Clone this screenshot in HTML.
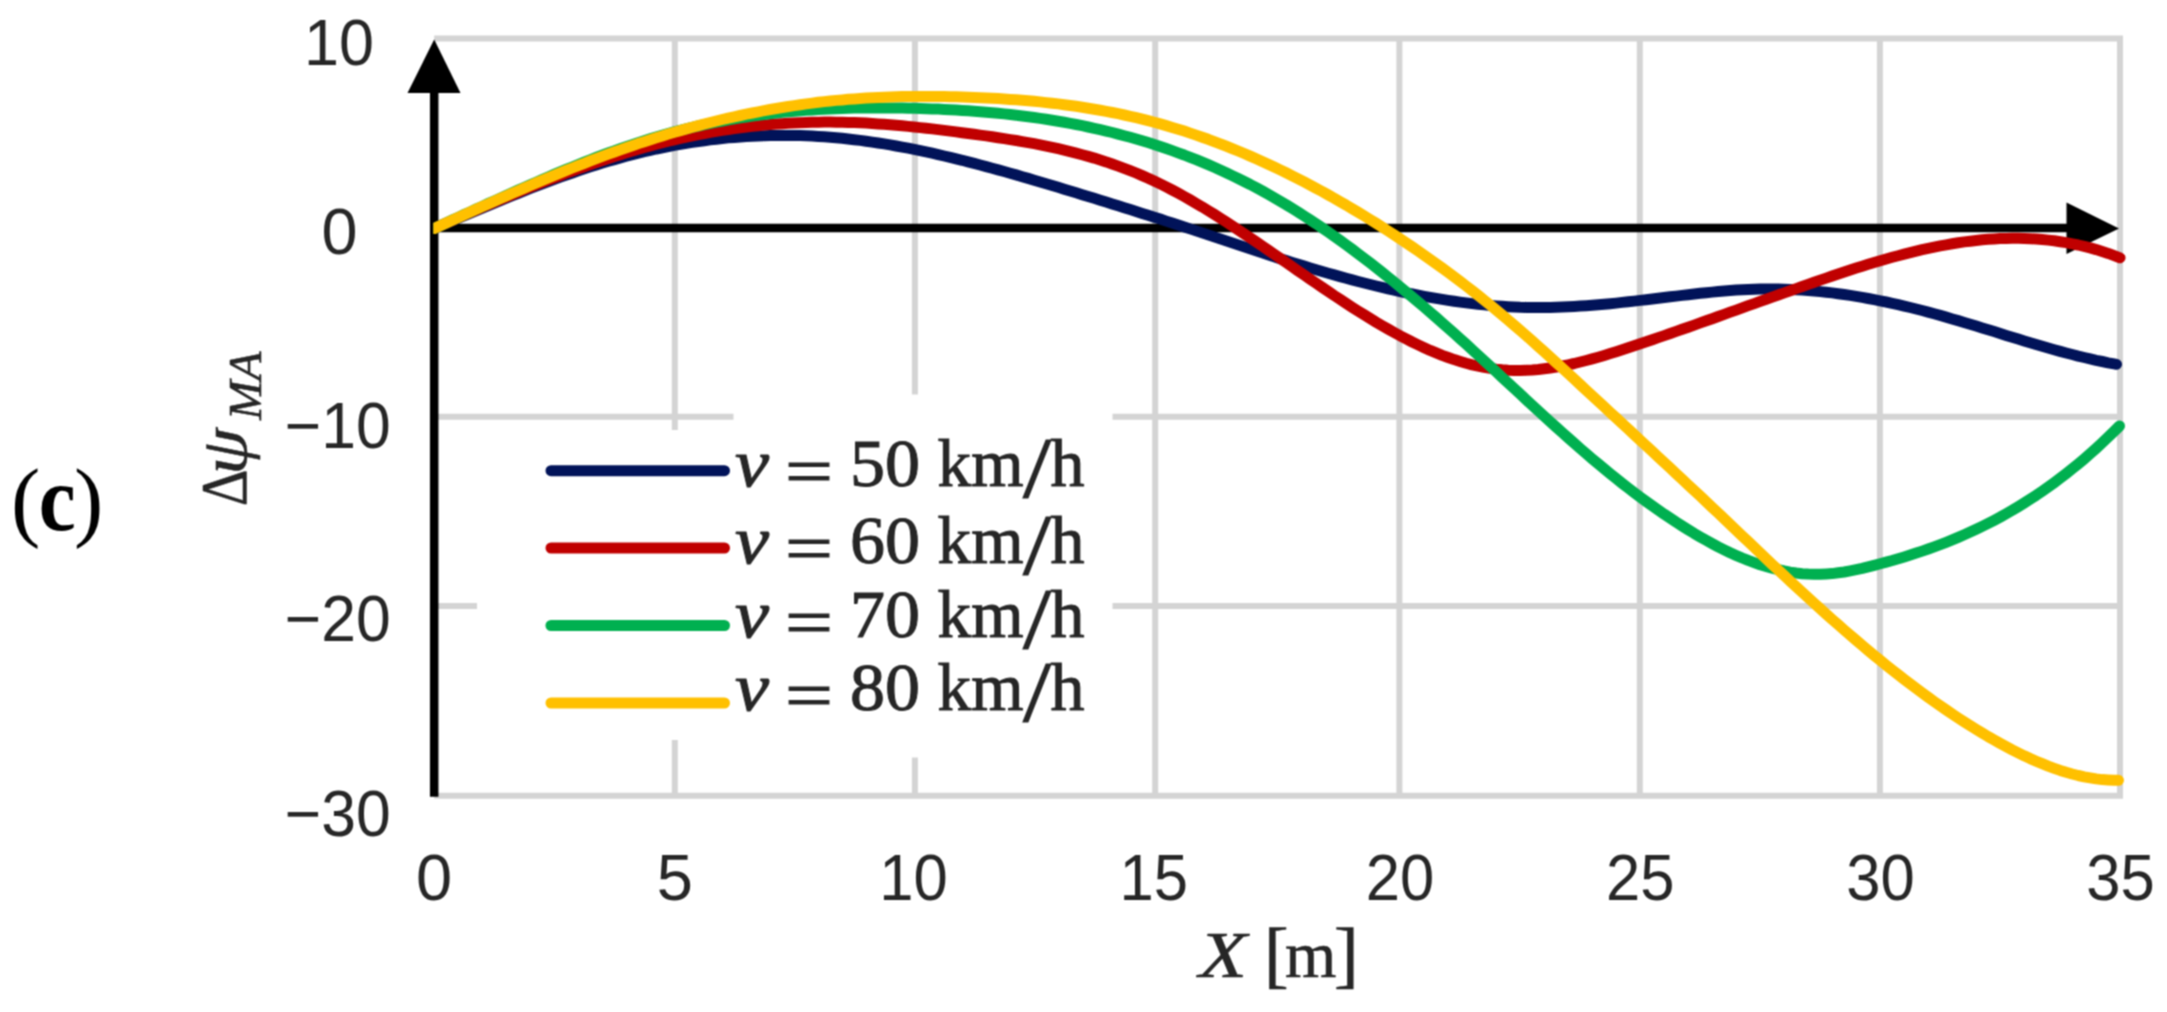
<!DOCTYPE html>
<html><head><meta charset="utf-8"><title>Figure (c)</title>
<style>html,body{margin:0;padding:0;background:#fff;}svg{display:block;}.sans{font-family:"Liberation Sans",sans-serif;}.serif{font-family:"Liberation Serif",serif;}</style></head><body>
<svg width="2167" height="1012" viewBox="0 0 2167 1012">
<rect width="2167" height="1012" fill="#fff"/>
<defs><filter id="soft" x="0" y="0" width="2167" height="1012" filterUnits="userSpaceOnUse" color-interpolation-filters="sRGB"><feConvolveMatrix order="3" kernelMatrix="1 2 1 2 4 2 1 2 1" divisor="16" edgeMode="duplicate" preserveAlpha="true"/></filter></defs>
<g filter="url(#soft)">
<rect x="-20" y="-20" width="2207" height="1052" fill="#fff"/>
<g stroke="#d4d4d4" stroke-width="6" fill="none">
<line x1="674.8" y1="38.4" x2="674.8" y2="795.8"/>
<line x1="914.9" y1="38.4" x2="914.9" y2="795.8"/>
<line x1="1155.2" y1="38.4" x2="1155.2" y2="795.8"/>
<line x1="1399.4" y1="38.4" x2="1399.4" y2="795.8"/>
<line x1="1639.8" y1="38.4" x2="1639.8" y2="795.8"/>
<line x1="1879.9" y1="38.4" x2="1879.9" y2="795.8"/>
<line x1="2120.0" y1="38.4" x2="2120.0" y2="795.8"/>
<line x1="434.2" y1="38.4" x2="2123.0" y2="38.4"/>
<line x1="434.2" y1="416.7" x2="2123.0" y2="416.7"/>
<line x1="434.2" y1="605.9" x2="2123.0" y2="605.9"/>
<line x1="434.2" y1="795.8" x2="2123.0" y2="795.8"/>
</g>
<rect x="477" y="430" width="257" height="310" fill="#fff"/>
<rect x="733.5" y="394.5" width="379" height="363" fill="#fff"/>
<line x1="434.2" y1="80" x2="434.2" y2="796.8" stroke="#000" stroke-width="8.5"/>
<line x1="434.2" y1="228.1" x2="2080" y2="228.1" stroke="#000" stroke-width="8.5"/>
<polygon points="434.2,39.5 407.5,93 460.5,93" fill="#000"/>
<polygon points="2119,228.6 2066.5,202.6 2066.5,254.1" fill="#000"/>
<clipPath id="plotclip"><rect x="433.3" y="0" width="1720" height="1012"/></clipPath>
<g fill="none" stroke-width="11" stroke-linecap="round" stroke-linejoin="round" clip-path="url(#plotclip)">
<path stroke="#011359" d="M434.2,228.4 L440.2,225.9 L446.2,223.3 L452.2,220.8 L458.2,218.2 L464.2,215.7 L470.2,213.1 L476.2,210.6 L482.2,208.1 L488.2,205.6 L494.2,203.1 L500.2,200.6 L506.2,198.2 L512.2,195.7 L518.2,193.3 L524.2,190.9 L530.2,188.5 L536.2,186.2 L542.2,183.9 L548.2,181.6 L554.2,179.4 L560.2,177.2 L566.2,175.1 L572.2,173.0 L578.2,170.9 L584.2,168.9 L590.2,166.9 L596.2,165.0 L602.2,163.1 L608.2,161.3 L614.2,159.6 L620.2,157.9 L626.2,156.3 L632.2,154.7 L638.2,153.2 L644.2,151.7 L650.2,150.4 L656.2,149.0 L662.2,147.8 L668.2,146.6 L674.2,145.4 L680.2,144.4 L686.2,143.3 L692.2,142.4 L698.2,141.5 L704.2,140.7 L710.2,139.9 L716.2,139.2 L722.2,138.5 L728.2,137.9 L734.2,137.4 L740.2,136.9 L746.2,136.5 L752.2,136.2 L758.2,135.9 L764.2,135.7 L770.2,135.5 L776.2,135.4 L782.2,135.4 L788.2,135.4 L794.2,135.5 L800.2,135.6 L806.2,135.8 L812.2,136.1 L818.2,136.4 L824.2,136.8 L830.2,137.2 L836.2,137.8 L842.2,138.3 L848.2,139.0 L854.2,139.7 L860.2,140.4 L866.2,141.2 L872.2,142.1 L878.2,143.0 L884.2,143.9 L890.2,144.9 L896.2,146.0 L902.2,147.1 L908.2,148.2 L914.2,149.4 L920.2,150.7 L926.2,151.9 L932.2,153.2 L938.2,154.6 L944.2,156.0 L950.2,157.4 L956.2,158.9 L962.2,160.3 L968.2,161.9 L974.2,163.4 L980.2,165.0 L986.2,166.6 L992.2,168.2 L998.2,169.9 L1004.2,171.5 L1010.2,173.2 L1016.2,174.9 L1022.2,176.7 L1028.2,178.4 L1034.2,180.2 L1040.2,182.0 L1046.2,183.7 L1052.2,185.5 L1058.2,187.3 L1064.2,189.2 L1070.2,191.0 L1076.2,192.8 L1082.2,194.7 L1088.2,196.5 L1094.2,198.3 L1100.2,200.2 L1106.2,202.0 L1112.2,203.9 L1118.2,205.8 L1124.2,207.7 L1130.2,209.6 L1136.2,211.5 L1142.2,213.4 L1148.2,215.3 L1154.2,217.2 L1160.2,219.1 L1166.2,221.1 L1172.2,223.0 L1178.2,225.0 L1184.2,226.9 L1190.2,228.9 L1196.2,230.9 L1202.2,232.9 L1208.2,234.9 L1214.2,236.9 L1220.2,238.9 L1226.2,240.9 L1232.2,242.9 L1238.2,244.9 L1244.2,246.9 L1250.2,248.9 L1256.2,250.9 L1262.2,252.8 L1268.2,254.8 L1274.2,256.7 L1280.2,258.7 L1286.2,260.6 L1292.2,262.4 L1298.2,264.3 L1304.2,266.1 L1310.2,267.9 L1316.2,269.7 L1322.2,271.5 L1328.2,273.2 L1334.2,274.9 L1340.2,276.6 L1346.2,278.3 L1352.2,279.9 L1358.2,281.5 L1364.2,283.0 L1370.2,284.5 L1376.2,286.0 L1382.2,287.4 L1388.2,288.8 L1394.2,290.2 L1400.2,291.5 L1406.2,292.8 L1412.2,294.0 L1418.2,295.2 L1424.2,296.3 L1430.2,297.4 L1436.2,298.4 L1442.2,299.4 L1448.2,300.4 L1454.2,301.3 L1460.2,302.1 L1466.2,302.9 L1472.2,303.6 L1478.2,304.3 L1484.2,304.9 L1490.2,305.4 L1496.2,305.9 L1502.2,306.3 L1508.2,306.7 L1514.2,307.0 L1520.2,307.3 L1526.2,307.4 L1532.2,307.5 L1538.2,307.6 L1544.2,307.5 L1550.2,307.4 L1556.2,307.3 L1562.2,307.1 L1568.2,306.8 L1574.2,306.5 L1580.2,306.1 L1586.2,305.7 L1592.2,305.3 L1598.2,304.8 L1604.2,304.2 L1610.2,303.7 L1616.2,303.1 L1622.2,302.4 L1628.2,301.8 L1634.2,301.1 L1640.2,300.4 L1646.2,299.7 L1652.2,299.0 L1658.2,298.3 L1664.2,297.5 L1670.2,296.8 L1676.2,296.1 L1682.2,295.4 L1688.2,294.7 L1694.2,294.0 L1700.2,293.3 L1706.2,292.7 L1712.2,292.1 L1718.2,291.5 L1724.2,291.0 L1730.2,290.6 L1736.2,290.1 L1742.2,289.8 L1748.2,289.5 L1754.2,289.2 L1760.2,289.1 L1766.2,289.0 L1772.2,289.0 L1778.2,289.0 L1784.2,289.2 L1790.2,289.4 L1796.2,289.7 L1802.2,290.0 L1808.2,290.5 L1814.2,291.0 L1820.2,291.6 L1826.2,292.2 L1832.2,292.9 L1838.2,293.7 L1844.2,294.5 L1850.2,295.4 L1856.2,296.4 L1862.2,297.4 L1868.2,298.5 L1874.2,299.6 L1880.2,300.8 L1886.2,302.0 L1892.2,303.3 L1898.2,304.7 L1904.2,306.1 L1910.2,307.5 L1916.2,309.0 L1922.2,310.5 L1928.2,312.1 L1934.2,313.8 L1940.2,315.4 L1946.2,317.1 L1952.2,318.9 L1958.2,320.6 L1964.2,322.4 L1970.2,324.2 L1976.2,326.1 L1982.2,327.9 L1988.2,329.8 L1994.2,331.6 L2000.2,333.5 L2006.2,335.4 L2012.2,337.2 L2018.2,339.1 L2024.2,340.9 L2030.2,342.7 L2036.2,344.5 L2042.2,346.3 L2048.2,348.0 L2054.2,349.7 L2060.2,351.4 L2066.2,353.0 L2072.2,354.5 L2078.2,356.1 L2084.2,357.5 L2090.2,358.9 L2096.2,360.3 L2102.2,361.5 L2108.2,362.8 L2114.2,363.9 L2116.5,364.3"/>
<path stroke="#c00000" d="M434.2,228.4 L440.2,225.7 L446.2,223.1 L452.2,220.4 L458.2,217.8 L464.2,215.1 L470.2,212.5 L476.2,209.9 L482.2,207.3 L488.2,204.7 L494.2,202.2 L500.2,199.6 L506.2,197.1 L512.2,194.6 L518.2,192.1 L524.2,189.7 L530.2,187.2 L536.2,184.8 L542.2,182.4 L548.2,180.1 L554.2,177.8 L560.2,175.5 L566.2,173.2 L572.2,171.0 L578.2,168.8 L584.2,166.7 L590.2,164.6 L596.2,162.5 L602.2,160.5 L608.2,158.5 L614.2,156.5 L620.2,154.7 L626.2,152.8 L632.2,151.0 L638.2,149.2 L644.2,147.5 L650.2,145.9 L656.2,144.3 L662.2,142.7 L668.2,141.2 L674.2,139.8 L680.2,138.4 L686.2,137.1 L692.2,135.8 L698.2,134.6 L704.2,133.5 L710.2,132.4 L716.2,131.4 L722.2,130.4 L728.2,129.5 L734.2,128.6 L740.2,127.8 L746.2,127.0 L752.2,126.3 L758.2,125.7 L764.2,125.1 L770.2,124.6 L776.2,124.1 L782.2,123.7 L788.2,123.3 L794.2,123.0 L800.2,122.7 L806.2,122.5 L812.2,122.3 L818.2,122.2 L824.2,122.1 L830.2,122.1 L836.2,122.2 L842.2,122.3 L848.2,122.4 L854.2,122.6 L860.2,122.8 L866.2,123.1 L872.2,123.5 L878.2,123.9 L884.2,124.3 L890.2,124.7 L896.2,125.2 L902.2,125.8 L908.2,126.4 L914.2,127.0 L920.2,127.6 L926.2,128.2 L932.2,128.9 L938.2,129.6 L944.2,130.4 L950.2,131.1 L956.2,131.9 L962.2,132.7 L968.2,133.5 L974.2,134.3 L980.2,135.1 L986.2,135.9 L992.2,136.8 L998.2,137.7 L1004.2,138.6 L1010.2,139.6 L1016.2,140.5 L1022.2,141.6 L1028.2,142.6 L1034.2,143.7 L1040.2,144.9 L1046.2,146.1 L1052.2,147.4 L1058.2,148.7 L1064.2,150.1 L1070.2,151.6 L1076.2,153.1 L1082.2,154.7 L1088.2,156.4 L1094.2,158.1 L1100.2,160.0 L1106.2,161.9 L1112.2,164.0 L1118.2,166.1 L1124.2,168.3 L1130.2,170.6 L1136.2,173.0 L1142.2,175.6 L1148.2,178.2 L1154.2,181.0 L1160.2,183.9 L1166.2,186.9 L1172.2,190.0 L1178.2,193.2 L1184.2,196.5 L1190.2,199.9 L1196.2,203.4 L1202.2,206.9 L1208.2,210.6 L1214.2,214.3 L1220.2,218.1 L1226.2,221.9 L1232.2,225.8 L1238.2,229.8 L1244.2,233.8 L1250.2,237.8 L1256.2,241.9 L1262.2,246.0 L1268.2,250.1 L1274.2,254.3 L1280.2,258.4 L1286.2,262.6 L1292.2,266.7 L1298.2,270.9 L1304.2,275.0 L1310.2,279.2 L1316.2,283.3 L1322.2,287.4 L1328.2,291.4 L1334.2,295.5 L1340.2,299.4 L1346.2,303.4 L1352.2,307.3 L1358.2,311.1 L1364.2,314.8 L1370.2,318.5 L1376.2,322.2 L1382.2,325.7 L1388.2,329.1 L1394.2,332.5 L1400.2,335.8 L1406.2,338.9 L1412.2,342.0 L1418.2,344.9 L1424.2,347.7 L1430.2,350.4 L1436.2,352.9 L1442.2,355.3 L1448.2,357.5 L1454.2,359.6 L1460.2,361.5 L1466.2,363.3 L1472.2,364.9 L1478.2,366.2 L1484.2,367.4 L1490.2,368.4 L1496.2,369.2 L1502.2,369.8 L1508.2,370.2 L1514.2,370.4 L1520.2,370.5 L1526.2,370.3 L1532.2,370.0 L1538.2,369.5 L1544.2,368.8 L1550.2,368.0 L1556.2,367.1 L1562.2,366.0 L1568.2,364.8 L1574.2,363.5 L1580.2,362.0 L1586.2,360.5 L1592.2,358.9 L1598.2,357.2 L1604.2,355.4 L1610.2,353.6 L1616.2,351.7 L1622.2,349.8 L1628.2,347.8 L1634.2,345.8 L1640.2,343.8 L1646.2,341.8 L1652.2,339.7 L1658.2,337.6 L1664.2,335.6 L1670.2,333.5 L1676.2,331.4 L1682.2,329.3 L1688.2,327.2 L1694.2,325.1 L1700.2,322.9 L1706.2,320.8 L1712.2,318.7 L1718.2,316.5 L1724.2,314.4 L1730.2,312.2 L1736.2,310.1 L1742.2,307.9 L1748.2,305.7 L1754.2,303.6 L1760.2,301.4 L1766.2,299.3 L1772.2,297.1 L1778.2,295.0 L1784.2,292.8 L1790.2,290.7 L1796.2,288.6 L1802.2,286.5 L1808.2,284.3 L1814.2,282.2 L1820.2,280.1 L1826.2,278.1 L1832.2,276.0 L1838.2,274.0 L1844.2,272.0 L1850.2,270.0 L1856.2,268.1 L1862.2,266.2 L1868.2,264.3 L1874.2,262.5 L1880.2,260.7 L1886.2,259.0 L1892.2,257.3 L1898.2,255.7 L1904.2,254.1 L1910.2,252.6 L1916.2,251.1 L1922.2,249.7 L1928.2,248.4 L1934.2,247.1 L1940.2,245.9 L1946.2,244.8 L1952.2,243.8 L1958.2,242.8 L1964.2,241.9 L1970.2,241.2 L1976.2,240.5 L1982.2,239.8 L1988.2,239.3 L1994.2,238.9 L2000.2,238.6 L2006.2,238.4 L2012.2,238.3 L2018.2,238.3 L2024.2,238.4 L2030.2,238.7 L2036.2,239.0 L2042.2,239.5 L2048.2,240.1 L2054.2,240.8 L2060.2,241.7 L2066.2,242.6 L2072.2,243.8 L2078.2,245.0 L2084.2,246.4 L2090.2,247.9 L2096.2,249.6 L2102.2,251.5 L2108.2,253.4 L2114.2,255.6 L2120.0,257.8"/>
<path stroke="#00b050" d="M434.2,228.4 L440.2,225.7 L446.2,222.9 L452.2,220.1 L458.2,217.4 L464.2,214.6 L470.2,211.9 L476.2,209.1 L482.2,206.4 L488.2,203.6 L494.2,200.9 L500.2,198.2 L506.2,195.5 L512.2,192.8 L518.2,190.1 L524.2,187.4 L530.2,184.8 L536.2,182.2 L542.2,179.6 L548.2,177.0 L554.2,174.4 L560.2,171.9 L566.2,169.4 L572.2,167.0 L578.2,164.6 L584.2,162.2 L590.2,159.8 L596.2,157.5 L602.2,155.2 L608.2,153.0 L614.2,150.8 L620.2,148.7 L626.2,146.6 L632.2,144.6 L638.2,142.6 L644.2,140.7 L650.2,138.8 L656.2,137.0 L662.2,135.2 L668.2,133.5 L674.2,131.9 L680.2,130.3 L686.2,128.8 L692.2,127.3 L698.2,126.0 L704.2,124.6 L710.2,123.4 L716.2,122.2 L722.2,121.0 L728.2,119.9 L734.2,118.9 L740.2,117.9 L746.2,117.0 L752.2,116.1 L758.2,115.2 L764.2,114.5 L770.2,113.7 L776.2,113.1 L782.2,112.4 L788.2,111.8 L794.2,111.3 L800.2,110.8 L806.2,110.3 L812.2,109.9 L818.2,109.6 L824.2,109.2 L830.2,108.9 L836.2,108.7 L842.2,108.5 L848.2,108.3 L854.2,108.1 L860.2,108.0 L866.2,107.9 L872.2,107.9 L878.2,107.9 L884.2,107.9 L890.2,107.9 L896.2,108.0 L902.2,108.1 L908.2,108.2 L914.2,108.3 L920.2,108.5 L926.2,108.7 L932.2,108.9 L938.2,109.1 L944.2,109.4 L950.2,109.7 L956.2,110.0 L962.2,110.4 L968.2,110.8 L974.2,111.2 L980.2,111.7 L986.2,112.2 L992.2,112.7 L998.2,113.3 L1004.2,113.9 L1010.2,114.5 L1016.2,115.2 L1022.2,116.0 L1028.2,116.7 L1034.2,117.5 L1040.2,118.4 L1046.2,119.3 L1052.2,120.3 L1058.2,121.3 L1064.2,122.3 L1070.2,123.4 L1076.2,124.5 L1082.2,125.7 L1088.2,127.0 L1094.2,128.3 L1100.2,129.7 L1106.2,131.1 L1112.2,132.5 L1118.2,134.1 L1124.2,135.7 L1130.2,137.3 L1136.2,139.0 L1142.2,140.8 L1148.2,142.6 L1154.2,144.5 L1160.2,146.5 L1166.2,148.5 L1172.2,150.6 L1178.2,152.8 L1184.2,155.0 L1190.2,157.4 L1196.2,159.7 L1202.2,162.2 L1208.2,164.7 L1214.2,167.3 L1220.2,170.0 L1226.2,172.7 L1232.2,175.6 L1238.2,178.5 L1244.2,181.5 L1250.2,184.5 L1256.2,187.7 L1262.2,190.9 L1268.2,194.3 L1274.2,197.7 L1280.2,201.2 L1286.2,204.7 L1292.2,208.4 L1298.2,212.1 L1304.2,216.0 L1310.2,219.9 L1316.2,223.8 L1322.2,227.9 L1328.2,232.0 L1334.2,236.2 L1340.2,240.5 L1346.2,244.9 L1352.2,249.3 L1358.2,253.8 L1364.2,258.3 L1370.2,262.9 L1376.2,267.6 L1382.2,272.4 L1388.2,277.2 L1394.2,282.0 L1400.2,286.9 L1406.2,291.9 L1412.2,296.9 L1418.2,302.0 L1424.2,307.1 L1430.2,312.3 L1436.2,317.5 L1442.2,322.8 L1448.2,328.1 L1454.2,333.4 L1460.2,338.8 L1466.2,344.2 L1472.2,349.7 L1478.2,355.2 L1484.2,360.7 L1490.2,366.3 L1496.2,371.8 L1502.2,377.4 L1508.2,383.0 L1514.2,388.5 L1520.2,394.1 L1526.2,399.7 L1532.2,405.2 L1538.2,410.7 L1544.2,416.2 L1550.2,421.7 L1556.2,427.1 L1562.2,432.5 L1568.2,437.9 L1574.2,443.2 L1580.2,448.5 L1586.2,453.6 L1592.2,458.8 L1598.2,463.8 L1604.2,468.8 L1610.2,473.7 L1616.2,478.6 L1622.2,483.3 L1628.2,488.0 L1634.2,492.6 L1640.2,497.1 L1646.2,501.5 L1652.2,505.8 L1658.2,510.0 L1664.2,514.2 L1670.2,518.2 L1676.2,522.2 L1682.2,526.0 L1688.2,529.7 L1694.2,533.4 L1700.2,536.9 L1706.2,540.3 L1712.2,543.6 L1718.2,546.8 L1724.2,549.8 L1730.2,552.7 L1736.2,555.4 L1742.2,558.0 L1748.2,560.4 L1754.2,562.6 L1760.2,564.7 L1766.2,566.5 L1772.2,568.2 L1778.2,569.7 L1784.2,571.0 L1790.2,572.1 L1796.2,573.0 L1802.2,573.7 L1808.2,574.1 L1814.2,574.3 L1820.2,574.3 L1826.2,574.0 L1832.2,573.6 L1838.2,572.8 L1844.2,572.0 L1850.2,570.9 L1856.2,569.7 L1862.2,568.4 L1868.2,566.9 L1874.2,565.4 L1880.2,563.8 L1886.2,562.1 L1892.2,560.5 L1898.2,558.7 L1904.2,556.9 L1910.2,555.0 L1916.2,553.1 L1922.2,551.1 L1928.2,549.0 L1934.2,546.8 L1940.2,544.6 L1946.2,542.3 L1952.2,539.9 L1958.2,537.4 L1964.2,534.8 L1970.2,532.1 L1976.2,529.3 L1982.2,526.4 L1988.2,523.4 L1994.2,520.3 L2000.2,517.1 L2006.2,513.7 L2012.2,510.3 L2018.2,506.7 L2024.2,503.0 L2030.2,499.2 L2036.2,495.3 L2042.2,491.2 L2048.2,487.0 L2054.2,482.7 L2060.2,478.2 L2066.2,473.6 L2072.2,468.8 L2078.2,463.9 L2084.2,458.9 L2090.2,453.7 L2096.2,448.3 L2102.2,442.8 L2108.2,437.1 L2114.2,431.3 L2119.5,426.0"/>
<path stroke="#ffc000" d="M434.2,228.4 L440.2,225.7 L446.2,222.9 L452.2,220.2 L458.2,217.5 L464.2,214.8 L470.2,212.1 L476.2,209.3 L482.2,206.6 L488.2,204.0 L494.2,201.3 L500.2,198.6 L506.2,195.9 L512.2,193.3 L518.2,190.7 L524.2,188.1 L530.2,185.5 L536.2,182.9 L542.2,180.4 L548.2,177.9 L554.2,175.4 L560.2,172.9 L566.2,170.4 L572.2,168.0 L578.2,165.6 L584.2,163.3 L590.2,160.9 L596.2,158.6 L602.2,156.4 L608.2,154.2 L614.2,152.0 L620.2,149.8 L626.2,147.7 L632.2,145.7 L638.2,143.6 L644.2,141.7 L650.2,139.7 L656.2,137.8 L662.2,135.9 L668.2,134.1 L674.2,132.3 L680.2,130.6 L686.2,128.9 L692.2,127.2 L698.2,125.6 L704.2,124.0 L710.2,122.5 L716.2,121.0 L722.2,119.5 L728.2,118.1 L734.2,116.8 L740.2,115.5 L746.2,114.2 L752.2,113.0 L758.2,111.8 L764.2,110.6 L770.2,109.5 L776.2,108.5 L782.2,107.5 L788.2,106.5 L794.2,105.6 L800.2,104.7 L806.2,103.9 L812.2,103.1 L818.2,102.3 L824.2,101.6 L830.2,101.0 L836.2,100.4 L842.2,99.9 L848.2,99.3 L854.2,98.9 L860.2,98.5 L866.2,98.1 L872.2,97.7 L878.2,97.5 L884.2,97.2 L890.2,97.0 L896.2,96.8 L902.2,96.6 L908.2,96.5 L914.2,96.5 L920.2,96.4 L926.2,96.4 L932.2,96.4 L938.2,96.5 L944.2,96.6 L950.2,96.7 L956.2,96.8 L962.2,97.0 L968.2,97.2 L974.2,97.4 L980.2,97.7 L986.2,98.0 L992.2,98.3 L998.2,98.6 L1004.2,99.0 L1010.2,99.4 L1016.2,99.8 L1022.2,100.3 L1028.2,100.8 L1034.2,101.3 L1040.2,101.9 L1046.2,102.6 L1052.2,103.2 L1058.2,103.9 L1064.2,104.7 L1070.2,105.5 L1076.2,106.3 L1082.2,107.2 L1088.2,108.2 L1094.2,109.2 L1100.2,110.2 L1106.2,111.3 L1112.2,112.5 L1118.2,113.7 L1124.2,115.0 L1130.2,116.3 L1136.2,117.7 L1142.2,119.2 L1148.2,120.7 L1154.2,122.3 L1160.2,123.9 L1166.2,125.6 L1172.2,127.4 L1178.2,129.2 L1184.2,131.1 L1190.2,133.1 L1196.2,135.1 L1202.2,137.2 L1208.2,139.3 L1214.2,141.6 L1220.2,143.8 L1226.2,146.2 L1232.2,148.6 L1238.2,151.0 L1244.2,153.5 L1250.2,156.1 L1256.2,158.7 L1262.2,161.4 L1268.2,164.2 L1274.2,167.0 L1280.2,169.9 L1286.2,172.8 L1292.2,175.8 L1298.2,178.8 L1304.2,181.9 L1310.2,185.1 L1316.2,188.3 L1322.2,191.5 L1328.2,194.9 L1334.2,198.2 L1340.2,201.7 L1346.2,205.1 L1352.2,208.7 L1358.2,212.3 L1364.2,215.9 L1370.2,219.6 L1376.2,223.3 L1382.2,227.1 L1388.2,231.0 L1394.2,234.9 L1400.2,238.8 L1406.2,242.8 L1412.2,246.9 L1418.2,251.0 L1424.2,255.2 L1430.2,259.4 L1436.2,263.7 L1442.2,268.0 L1448.2,272.4 L1454.2,276.9 L1460.2,281.4 L1466.2,286.0 L1472.2,290.6 L1478.2,295.4 L1484.2,300.2 L1490.2,305.0 L1496.2,310.0 L1502.2,315.0 L1508.2,320.1 L1514.2,325.2 L1520.2,330.4 L1526.2,335.6 L1532.2,340.9 L1538.2,346.3 L1544.2,351.7 L1550.2,357.1 L1556.2,362.6 L1562.2,368.0 L1568.2,373.5 L1574.2,379.1 L1580.2,384.6 L1586.2,390.2 L1592.2,395.7 L1598.2,401.3 L1604.2,406.8 L1610.2,412.4 L1616.2,417.9 L1622.2,423.5 L1628.2,429.1 L1634.2,434.6 L1640.2,440.2 L1646.2,445.7 L1652.2,451.3 L1658.2,456.9 L1664.2,462.5 L1670.2,468.1 L1676.2,473.7 L1682.2,479.3 L1688.2,484.9 L1694.2,490.5 L1700.2,496.1 L1706.2,501.8 L1712.2,507.5 L1718.2,513.1 L1724.2,518.8 L1730.2,524.5 L1736.2,530.2 L1742.2,535.9 L1748.2,541.6 L1754.2,547.3 L1760.2,553.0 L1766.2,558.7 L1772.2,564.4 L1778.2,570.0 L1784.2,575.6 L1790.2,581.2 L1796.2,586.8 L1802.2,592.3 L1808.2,597.8 L1814.2,603.3 L1820.2,608.7 L1826.2,614.1 L1832.2,619.5 L1838.2,624.7 L1844.2,630.0 L1850.2,635.2 L1856.2,640.3 L1862.2,645.4 L1868.2,650.4 L1874.2,655.4 L1880.2,660.3 L1886.2,665.2 L1892.2,670.0 L1898.2,674.7 L1904.2,679.3 L1910.2,683.9 L1916.2,688.4 L1922.2,692.9 L1928.2,697.3 L1934.2,701.6 L1940.2,705.8 L1946.2,709.9 L1952.2,714.0 L1958.2,718.0 L1964.2,721.9 L1970.2,725.7 L1976.2,729.4 L1982.2,733.0 L1988.2,736.6 L1994.2,740.0 L2000.2,743.4 L2006.2,746.6 L2012.2,749.8 L2018.2,752.8 L2024.2,755.8 L2030.2,758.6 L2036.2,761.2 L2042.2,763.7 L2048.2,766.1 L2054.2,768.3 L2060.2,770.4 L2066.2,772.3 L2072.2,774.0 L2078.2,775.5 L2084.2,776.8 L2090.2,777.9 L2096.2,778.9 L2102.2,779.6 L2108.2,780.0 L2114.2,780.3 L2118.5,780.3"/>
</g>
<g fill="none" stroke-width="11" stroke-linecap="round">
<line x1="551" y1="470.7" x2="724.5" y2="470.7" stroke="#011359"/>
<line x1="551" y1="548" x2="724.5" y2="548" stroke="#c00000"/>
<line x1="551" y1="625.5" x2="724.5" y2="625.5" stroke="#00b050"/>
<line x1="551" y1="703" x2="724.5" y2="703" stroke="#ffc000"/>
</g>
<g class="serif" font-size="67" fill="#262626" stroke="#262626" stroke-width="1">
<text x="735" y="486" font-style="italic" textLength="34" lengthAdjust="spacingAndGlyphs">v</text>
<text x="785" y="494" textLength="48" lengthAdjust="spacingAndGlyphs">=</text>
<text x="850" y="486" textLength="70" lengthAdjust="spacingAndGlyphs">50</text>
<text x="937.5" y="486" textLength="86" lengthAdjust="spacingAndGlyphs">km</text>
<text x="1023" y="497" font-size="86" textLength="28" lengthAdjust="spacingAndGlyphs">/</text>
<text x="1050.5" y="486" textLength="34" lengthAdjust="spacingAndGlyphs">h</text>
<text x="735" y="562.5" font-style="italic" textLength="34" lengthAdjust="spacingAndGlyphs">v</text>
<text x="785" y="570.5" textLength="48" lengthAdjust="spacingAndGlyphs">=</text>
<text x="850" y="562.5" textLength="70" lengthAdjust="spacingAndGlyphs">60</text>
<text x="937.5" y="562.5" textLength="86" lengthAdjust="spacingAndGlyphs">km</text>
<text x="1023" y="573.5" font-size="86" textLength="28" lengthAdjust="spacingAndGlyphs">/</text>
<text x="1050.5" y="562.5" textLength="34" lengthAdjust="spacingAndGlyphs">h</text>
<text x="735" y="636.5" font-style="italic" textLength="34" lengthAdjust="spacingAndGlyphs">v</text>
<text x="785" y="644.5" textLength="48" lengthAdjust="spacingAndGlyphs">=</text>
<text x="850" y="636.5" textLength="70" lengthAdjust="spacingAndGlyphs">70</text>
<text x="937.5" y="636.5" textLength="86" lengthAdjust="spacingAndGlyphs">km</text>
<text x="1023" y="647.5" font-size="86" textLength="28" lengthAdjust="spacingAndGlyphs">/</text>
<text x="1050.5" y="636.5" textLength="34" lengthAdjust="spacingAndGlyphs">h</text>
<text x="735" y="710" font-style="italic" textLength="34" lengthAdjust="spacingAndGlyphs">v</text>
<text x="785" y="718" textLength="48" lengthAdjust="spacingAndGlyphs">=</text>
<text x="850" y="710" textLength="70" lengthAdjust="spacingAndGlyphs">80</text>
<text x="937.5" y="710" textLength="86" lengthAdjust="spacingAndGlyphs">km</text>
<text x="1023" y="721" font-size="86" textLength="28" lengthAdjust="spacingAndGlyphs">/</text>
<text x="1050.5" y="710" textLength="34" lengthAdjust="spacingAndGlyphs">h</text>
</g>
<g class="sans" font-size="65" fill="#262626">
<text x="304" y="65.3" textLength="70" lengthAdjust="spacingAndGlyphs">10</text>
<text x="321.5" y="254.3" textLength="36" lengthAdjust="spacingAndGlyphs">0</text>
<text x="284.7" y="448.3" textLength="106" lengthAdjust="spacingAndGlyphs">−10</text>
<text x="284.7" y="641.4" textLength="106" lengthAdjust="spacingAndGlyphs">−20</text>
<text x="284.7" y="836" textLength="106" lengthAdjust="spacingAndGlyphs">−30</text>
</g>
<g class="sans" font-size="65" fill="#262626" text-anchor="middle">
<text x="434.2" y="899.5">0</text>
<text x="674.8" y="899.5">5</text>
<text x="913.4" y="899.5" textLength="68.5" lengthAdjust="spacingAndGlyphs">10</text>
<text x="1153.7" y="899.5" textLength="68.5" lengthAdjust="spacingAndGlyphs">15</text>
<text x="1399.9" y="899.5" textLength="68.5" lengthAdjust="spacingAndGlyphs">20</text>
<text x="1640.3" y="899.5" textLength="68.5" lengthAdjust="spacingAndGlyphs">25</text>
<text x="1880.4" y="899.5" textLength="68.5" lengthAdjust="spacingAndGlyphs">30</text>
<text x="2120.5" y="899.5" textLength="68.5" lengthAdjust="spacingAndGlyphs">35</text>
</g>
<g class="serif" font-size="66" fill="#262626" stroke="#262626" stroke-width="0.6">
<text x="1199" y="976.5" font-style="italic" textLength="48" lengthAdjust="spacingAndGlyphs">X</text>
<text x="1264" y="979" font-size="74">[</text>
<text x="1285" y="976.5">m</text>
<text x="1334" y="979" font-size="74">]</text>
</g>
<g class="serif" fill="#262626" stroke="#262626" stroke-width="0.5" transform="translate(246,505.5) rotate(-90)">
<text x="-0.8" y="0" font-size="65" textLength="36.7" lengthAdjust="spacingAndGlyphs">Δ</text>
<text x="30.4" y="0" font-size="65" font-style="italic" textLength="46.9" lengthAdjust="spacingAndGlyphs">ψ</text>
<text x="85.5" y="15" font-size="46" font-style="italic" textLength="68.4" lengthAdjust="spacingAndGlyphs">MA</text>
</g>
<g class="serif" fill="#000">
<text x="11" y="529.5" font-size="88">(</text>
<text x="38.8" y="530.3" font-size="94" font-weight="bold" textLength="37" lengthAdjust="spacingAndGlyphs">c</text>
<text x="74" y="529.5" font-size="88">)</text>
</g>
</g>
</svg></body></html>
